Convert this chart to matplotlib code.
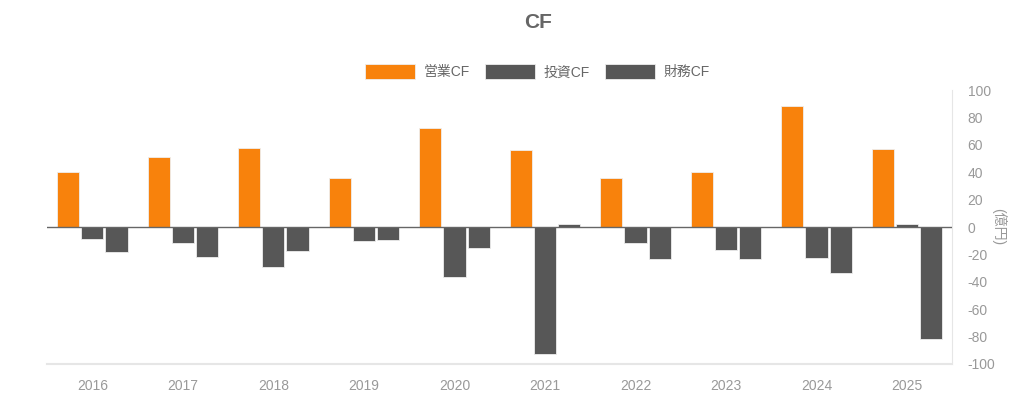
import matplotlib.pyplot as plt
import numpy as np

plt.rcParams['font.family'] = ['Liberation Sans', 'Noto Sans CJK JP', 'DejaVu Sans']
plt.rcParams['axes.unicode_minus'] = False

# data (億円)
years = ['2016', '2017', '2018', '2019', '2020', '2021', '2022', '2023', '2024', '2025']
operating_cf = [40, 51.5, 58, 35.5, 72, 56, 36, 40.5, 88.5, 57]
investing_cf = [-8.5, -12, -29, -10.5, -36.5, -92.5, -12, -16.5, -22.5, 2]
financing_cf = [-18.5, -22, -17.5, -9.5, -15, 2.5, -23, -23, -33.5, -81.5]
series_names = ['営業CF', '投資CF', '財務CF']
colors = ['#F8820C', '#575757', '#575757']

fig = plt.figure(figsize=(10.24, 3.99), dpi=100)
ax = fig.add_axes([0.046, 0.088, 0.884, 0.686])

x = np.arange(len(years))
w = 0.245
step = 0.267
for i, (vals, name, c) in enumerate(zip([operating_cf, investing_cf, financing_cf], series_names, colors)):
    ax.bar(x + (i - 1) * step, vals, width=w, color=c, edgecolor='#eeeeee', linewidth=0.6,
           label=name, zorder=3)

ax.axhline(0, color='#666666', lw=1.0, zorder=4)

ax.set_xlim(-0.5, len(years) - 0.5)
ax.set_ylim(-100, 100)
ax.set_yticks(np.arange(-100, 101, 20))
ax.set_xticks(x)
ax.set_xticklabels(years)

ax.yaxis.tick_right()
ax.yaxis.set_label_position('right')
ax.set_ylabel('(億円)', rotation=270, labelpad=8, color='#999999', fontsize=10)

for s in ['top', 'left']:
    ax.spines[s].set_visible(False)
ax.spines['right'].set_color('#e6e6e6')
ax.spines['bottom'].set_color('#e6e6e6')
ax.spines['bottom'].set_linewidth(1.5)
ax.tick_params(axis='both', length=0, colors='#999999', labelsize=10)
ax.tick_params(axis='x', pad=11)
ax.tick_params(axis='y', pad=11)

fig.text(0.525, 0.943, 'CF', ha='center', va='center', fontsize=15, fontweight='bold', color='#666666')

fig.legend(loc='center', bbox_to_anchor=(0.525, 0.82), ncol=3, frameon=False,
           handlelength=3.6, handleheight=1.3, handletextpad=0.6, columnspacing=1.1,
           fontsize=10, labelcolor='#666666')

plt.savefig('out.png', dpi=100)
plt.close()
